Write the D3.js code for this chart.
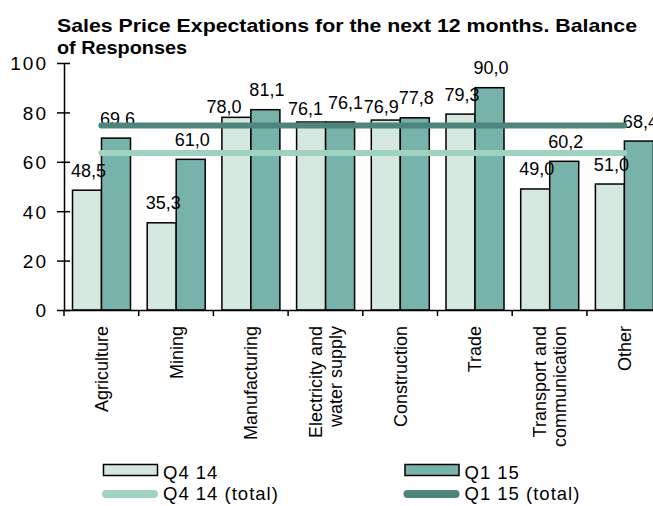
<!DOCTYPE html>
<html>
<head>
  <meta charset="UTF-8">
  <title>Sales Price Expectations</title>
  <script src="https://d3js.org/d3.v7.min.js"></script>
  <style>
    body { margin: 0; background: #fff; }
    text { font-family: "Liberation Sans", Arial, sans-serif; fill: #000; }
  </style>
</head>
<body>
  <div id="chart"></div>
  <script>
    // data
    const categories = ["Agriculture", "Mining", "Manufacturing", "Electricity and|water supply",
      "Construction", "Trade", "Transport and|communication", "Other"];
    const seriesNames = ["Q4 14", "Q1 15"];
    const q4_14 = [48.5, 35.3, 78.0, 76.1, 76.9, 79.3, 49.0, 51.0];
    const q1_15 = [69.6, 61.0, 81.1, 76.1, 77.8, 90.0, 60.2, 68.4];
    const totalNames = ["Q4 14 (total)", "Q1 15 (total)"];
    const totals = [63.6, 74.7];
    const yTicks = [0, 20, 40, 60, 80, 100];

    const barColors = ["#d4e8e0", "#77b3ab"];
    const lineColors = ["#a0d2c0", "#4d857c"];

    // a few labels were nudged by hand in the original so they don't collide
    const nudge = {
      "0-2": [-14, 9], "0-3": [-7, 6], "1-3": [4, 0], "0-4": [-6, 6]
    };

    const W = 653, H = 506;
    const svg = d3.select("#chart").append("svg")
      .attr("width", W).attr("height", H);

    svg.append("rect").attr("width", W).attr("height", H).attr("fill", "#fff");

    const x0 = d3.scaleBand().domain(categories).range([64, 64 + 8 * 74.7]).padding(0);
    const x1 = d3.scaleBand().domain(seriesNames).range([8.5, x0.bandwidth() - 8.2]).padding(0);
    const y = d3.scaleLinear().domain([0, 100]).range([310, 63]);

    const fmt = v => v.toFixed(1).replace(".", ",");

    // bars
    const rows = categories.map((c, i) => ({ cat: c, i: i, vals: [q4_14[i], q1_15[i]] }));
    const groups = svg.selectAll(".grp").data(rows).enter().append("g")
      .attr("transform", d => "translate(" + x0(d.cat) + ",0)");

    groups.selectAll("rect")
      .data(d => d.vals.map((v, k) => ({ s: seriesNames[k], v: v, k: k })))
      .enter().append("rect")
      .attr("x", d => x1(d.s))
      .attr("y", d => y(d.v))
      .attr("width", x1.bandwidth())
      .attr("height", d => y(0) - y(d.v))
      .attr("fill", d => barColors[d.k])
      .attr("stroke", "#000")
      .attr("stroke-width", 1.5);

    // total lines
    const first = x0(categories[0]) + x0.bandwidth() / 2;
    const last = x0(categories[categories.length - 1]) + x0.bandwidth() / 2;
    totals.forEach((t, k) => {
      svg.append("line")
        .attr("x1", first).attr("x2", last)
        .attr("y1", y(t)).attr("y2", y(t))
        .attr("stroke", lineColors[k])
        .attr("stroke-width", 6)
        .attr("stroke-linecap", "round");
    });

    // value labels
    groups.selectAll(".lbl")
      .data(d => d.vals.map((v, k) => ({ s: seriesNames[k], v: v, n: nudge[k + "-" + d.i] || [0, 0] })))
      .enter().append("text")
      .attr("x", d => x1(d.s) + x1.bandwidth() / 2 + 1.5 + d.n[0])
      .attr("y", d => y(d.v) - 13.5 + d.n[1])
      .attr("text-anchor", "middle")
      .style("font-size", "18px")
      .text(d => fmt(d.v));

    // y axis
    const yAxis = svg.append("g")
      .attr("transform", "translate(64,0)")
      .call(d3.axisLeft(y).tickValues(yTicks).tickSize(0).tickPadding(16));
    yAxis.select(".domain").attr("stroke", "#000").attr("stroke-width", 1.5);
    yAxis.selectAll(".tick text")
      .style("font-size", "19px")
      .style("font-family", "'Liberation Sans', Arial, sans-serif")
      .style("letter-spacing", "2px")
      .attr("dy", "0.36em");
    yAxis.selectAll(".tick").append("line")
      .attr("x1", -7).attr("x2", 6)
      .attr("stroke", "#000").attr("stroke-width", 1.5);

    // x axis
    const xAxis = svg.append("g")
      .attr("transform", "translate(0," + y(0) + ")")
      .call(d3.axisBottom(x0).tickSize(0).tickFormat(""));
    xAxis.select(".domain").attr("stroke", "#000").attr("stroke-width", 1.5);
    xAxis.selectAll(".edge")
      .data(categories).enter().append("line")
      .attr("x1", d => x0(d)).attr("x2", d => x0(d))
      .attr("y1", 0).attr("y2", 6)
      .attr("stroke", "#000").attr("stroke-width", 1.5);

    // category labels, rotated
    categories.forEach(c => {
      const parts = c.split("|");
      const cx = x0(c) + x0.bandwidth() / 2;
      parts.forEach((p, j) => {
        const off = (j - (parts.length - 1) / 2) * 20;
        svg.append("text")
          .attr("transform", "translate(" + (cx + off) + ",326) rotate(-90)")
          .attr("text-anchor", "end")
          .attr("dy", "0.36em")
          .style("font-size", "18px")
          .text(p);
      });
    });

    // title
    svg.append("text")
      .attr("x", 57).attr("y", 32)
      .attr("textLength", 580).attr("lengthAdjust", "spacingAndGlyphs")
      .style("font-size", "19px").style("font-weight", "bold")
      .text("Sales Price Expectations for the next 12 months. Balance");
    svg.append("text")
      .attr("x", 57).attr("y", 54)
      .attr("textLength", 130).attr("lengthAdjust", "spacingAndGlyphs")
      .style("font-size", "19px").style("font-weight", "bold")
      .text("of Responses");

    // legend
    const legX = [103.5, 405];
    seriesNames.forEach((s, k) => {
      svg.append("rect")
        .attr("x", legX[k]).attr("y", 464.5)
        .attr("width", 54).attr("height", 11)
        .attr("fill", barColors[k]).attr("stroke", "#000").attr("stroke-width", 1.5);
      svg.append("text")
        .attr("x", legX[k] + 59.5).attr("y", 478.5)
        .style("font-size", "18.5px").style("letter-spacing", "1px")
        .text(s);
    });
    totalNames.forEach((s, k) => {
      svg.append("line")
        .attr("x1", legX[k] + 2.5).attr("x2", legX[k] + 50.5)
        .attr("y1", 494).attr("y2", 494)
        .attr("stroke", lineColors[k]).attr("stroke-width", 8)
        .attr("stroke-linecap", "round");
      svg.append("text")
        .attr("x", legX[k] + 59.5).attr("y", 500)
        .style("font-size", "18.5px").style("letter-spacing", "1px")
        .text(s);
    });
  </script>
</body>
</html>
